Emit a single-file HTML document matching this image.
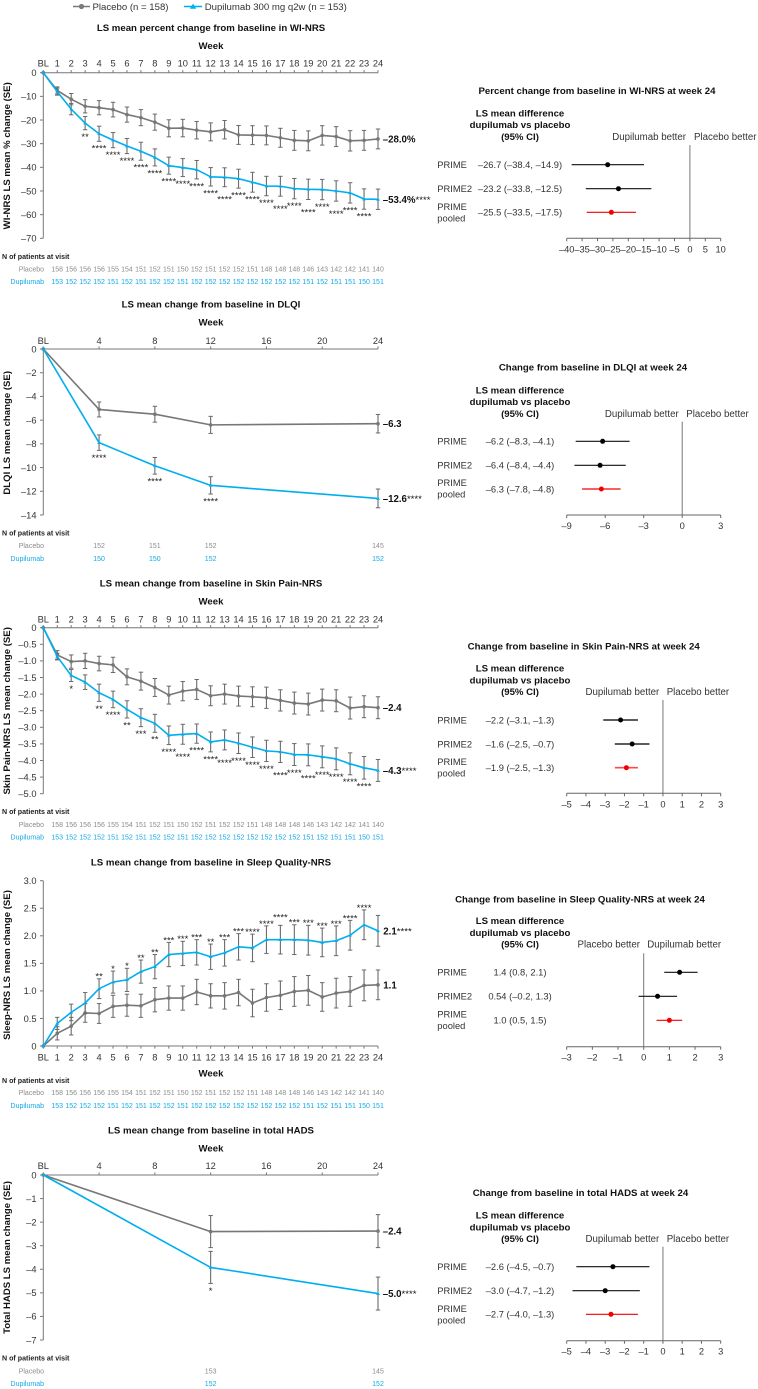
<!DOCTYPE html>
<html lang="en">
<head>
<meta charset="utf-8">
<title>Dupilumab vs placebo outcomes</title>
<style>
html,body{margin:0;padding:0;background:#fff;}
svg{display:block;font-family:"Liberation Sans",Arial,sans-serif;filter:blur(0.3px);}
.title{font-size:9.65px;font-weight:bold;fill:#111;text-anchor:middle;}
.week{font-size:9.6px;font-weight:bold;fill:#111;text-anchor:middle;}
.ytitle{font-size:9.6px;font-weight:bold;fill:#111;text-anchor:middle;}
.nhead{font-size:7.1px;font-weight:bold;fill:#222;}
.rowp{font-size:7px;fill:#8c8c8c;text-anchor:end;}
.rowd{font-size:7px;fill:#14a9e8;text-anchor:end;}
.head{font-size:9.6px;font-weight:bold;fill:#111;text-anchor:middle;}
.better{font-size:9.7px;fill:#333;}
.study{font-size:9.35px;fill:#333;}
.legend{font-size:9.6px;fill:#333;}
</style>
</head>
<body>
<svg id="chart" xmlns="http://www.w3.org/2000/svg" width="758" height="1389" viewBox="0 0 758 1389">
  <rect x="0" y="0" width="758" height="1389" fill="#fff"/>

  <g>
    <g>
      <line x1="73" y1="6.5" x2="90" y2="6.5" stroke="#7a7a7a" stroke-width="1.5"/>
      <circle cx="81.5" cy="6.5" r="2.6" fill="#7a7a7a"/>
      <text class="legend" x="92.5" y="10">Placebo (n = 158)</text>
    </g>
    <g>
      <line x1="184" y1="6.5" x2="202" y2="6.5" stroke="#00aeef" stroke-width="1.5"/>
      <polygon points="193,3.6 196.2,8.8 189.8,8.8" fill="#00aeef"/>
      <text class="legend" x="204.7" y="10">Dupilumab 300 mg q2w (n = 153)</text>
    </g>
  </g>

  <!-- Panel 1 -->
  <g id="line-wi">
    <text class="title" x="211" y="31">LS mean percent change from baseline in WI-NRS</text>
    <text class="week" x="211" y="49">Week</text>
    <text class="ytitle" transform="translate(10,155.8) rotate(-90)">WI-NRS LS mean % change (SE)</text>
    <text class="nhead" x="2" y="259">N of patients at visit</text>
    <text class="rowp" x="44" y="271.5">Placebo</text>
    <text class="rowd" x="44" y="284">Dupilumab</text>
  </g>
  <g id="forest-wi">
    <text class="title" x="597" y="94">Percent change from baseline in WI-NRS at week 24</text>
    <text class="head" x="520" y="116.3">LS mean difference</text>
    <text class="head" x="520" y="128">dupilumab vs placebo</text>
    <text class="head" x="520" y="140">(95% CI)</text>
    <text class="better" x="686" y="140" text-anchor="end">Dupilumab better</text>
    <text class="better" x="694" y="140">Placebo better</text>
    <text class="study" x="437.3" y="168">PRIME</text>
    <text class="study" x="437.3" y="192">PRIME2</text>
    <text class="study" x="437.3" y="210">PRIME</text>
    <text class="study" x="437.3" y="221.5">pooled</text>
  </g>

  <!-- Panel 2 -->
  <g id="line-dlqi">
    <text class="title" x="211" y="307.6">LS mean change from baseline in DLQI</text>
    <text class="week" x="211" y="325.6">Week</text>
    <text class="ytitle" transform="translate(10,432.8) rotate(-90)">DLQI LS mean change (SE)</text>
    <text class="nhead" x="2" y="535.7">N of patients at visit</text>
    <text class="rowp" x="44" y="548.2">Placebo</text>
    <text class="rowd" x="44" y="560.8">Dupilumab</text>
  </g>
  <g id="forest-dlqi">
    <text class="title" x="593" y="370.6">Change from baseline in DLQI at week 24</text>
    <text class="head" x="520" y="393.3">LS mean difference</text>
    <text class="head" x="520" y="405">dupilumab vs placebo</text>
    <text class="head" x="520" y="417">(95% CI)</text>
    <text class="better" x="678.7" y="416.8" text-anchor="end">Dupilumab better</text>
    <text class="better" x="686.3" y="416.8">Placebo better</text>
    <text class="study" x="437.3" y="444.6">PRIME</text>
    <text class="study" x="437.3" y="468.6">PRIME2</text>
    <text class="study" x="437.3" y="486">PRIME</text>
    <text class="study" x="437.3" y="497.6">pooled</text>
  </g>

  <!-- Panel 3 -->
  <g id="line-pain">
    <text class="title" x="211" y="586.6">LS mean change from baseline in Skin Pain-NRS</text>
    <text class="week" x="211" y="604.3">Week</text>
    <text class="ytitle" transform="translate(10,710.8) rotate(-90)">Skin Pain-NRS LS mean change (SE)</text>
    <text class="nhead" x="2" y="814">N of patients at visit</text>
    <text class="rowp" x="44" y="826.8">Placebo</text>
    <text class="rowd" x="44" y="839.5">Dupilumab</text>
  </g>
  <g id="forest-pain">
    <text class="title" x="583.7" y="649.6">Change from baseline in Skin Pain-NRS at week 24</text>
    <text class="head" x="520" y="671.6">LS mean difference</text>
    <text class="head" x="520" y="683.3">dupilumab vs placebo</text>
    <text class="head" x="520" y="695">(95% CI)</text>
    <text class="better" x="659.3" y="695" text-anchor="end">Dupilumab better</text>
    <text class="better" x="666.7" y="695">Placebo better</text>
    <text class="study" x="437.3" y="723.3">PRIME</text>
    <text class="study" x="437.3" y="747.3">PRIME2</text>
    <text class="study" x="437.3" y="765">PRIME</text>
    <text class="study" x="437.3" y="776.6">pooled</text>
  </g>

  <!-- Panel 4 -->
  <g id="line-sleep">
    <text class="title" x="211" y="865.3">LS mean change from baseline in Sleep Quality-NRS</text>
    <text class="week" x="211" y="1076.6">Week</text>
    <text class="ytitle" transform="translate(10,965) rotate(-90)">Sleep-NRS LS mean change (SE)</text>
    <text class="nhead" x="2" y="1083">N of patients at visit</text>
    <text class="rowp" x="44" y="1095.2">Placebo</text>
    <text class="rowd" x="44" y="1107.8">Dupilumab</text>
  </g>
  <g id="forest-sleep">
    <text class="title" x="580" y="902.3">Change from baseline in Sleep Quality-NRS at week 24</text>
    <text class="head" x="520" y="924">LS mean difference</text>
    <text class="head" x="520" y="936">dupilumab vs placebo</text>
    <text class="head" x="520" y="947.6">(95% CI)</text>
    <text class="better" x="640" y="947.6" text-anchor="end">Placebo better</text>
    <text class="better" x="647.3" y="947.6">Dupilumab better</text>
    <text class="study" x="437.3" y="975.6">PRIME</text>
    <text class="study" x="437.3" y="999.6">PRIME2</text>
    <text class="study" x="437.3" y="1017.6">PRIME</text>
    <text class="study" x="437.3" y="1029.2">pooled</text>
  </g>

  <!-- Panel 5 -->
  <g id="line-hads">
    <text class="title" x="211" y="1133.3">LS mean change from baseline in total HADS</text>
    <text class="week" x="211" y="1151.3">Week</text>
    <text class="ytitle" transform="translate(10,1257.5) rotate(-90)">Total HADS LS mean change (SE)</text>
    <text class="nhead" x="2" y="1360.7">N of patients at visit</text>
    <text class="rowp" x="44" y="1373.5">Placebo</text>
    <text class="rowd" x="44" y="1385.8">Dupilumab</text>
  </g>
  <g id="forest-hads">
    <text class="title" x="580.5" y="1196">Change from baseline in total HADS at week 24</text>
    <text class="head" x="520" y="1218.6">LS mean difference</text>
    <text class="head" x="520" y="1230.3">dupilumab vs placebo</text>
    <text class="head" x="520" y="1242">(95% CI)</text>
    <text class="better" x="659.3" y="1241.8" text-anchor="end">Dupilumab better</text>
    <text class="better" x="666.7" y="1241.8">Placebo better</text>
    <text class="study" x="437.3" y="1270">PRIME</text>
    <text class="study" x="437.3" y="1294">PRIME2</text>
    <text class="study" x="437.3" y="1312">PRIME</text>
    <text class="study" x="437.3" y="1323.6">pooled</text>
  </g>
</svg>

<script>
// ---------- shared categories ----------
const weeklyWeeks = [0,1,2,3,4,5,6,7,8,9,10,11,12,13,14,15,16,17,18,19,20,21,22,23,24];
const weeklyTickLabels = ['BL','1','2','3','4','5','6','7','8','9','10','11','12','13','14','15','16','17','18','19','20','21','22','23','24'];
const sparseTicks = [0,4,8,12,16,20,24];
const sparseTickLabels = ['BL','4','8','12','16','20','24'];
const weeklyNWeeks = [1,2,3,4,5,6,7,8,9,10,11,12,13,14,15,16,17,18,19,20,21,22,23,24];
const weeklyNPlacebo = [158,156,156,156,155,154,151,152,151,150,152,151,152,152,151,148,148,148,146,143,142,142,141,140];
const weeklyNDupilumab = [153,152,152,152,151,152,151,152,152,151,152,152,152,152,152,152,152,152,151,152,151,151,150,151];

// ---------- WI-NRS ----------
const wiPlacebo = [0,-7.5,-11.2,-14.2,-14.8,-15.6,-17.7,-19,-20.9,-23.5,-23.4,-24.3,-25,-24.1,-26.3,-26.4,-26.5,-27.5,-28.6,-28.8,-26.5,-27,-28.8,-28.6,-28];
const wiPlaceboSE = [0,1.5,2.4,2.8,3,3.1,3.2,3.4,3.4,3.6,3.7,3.7,3.8,3.9,4,4,4,4,4.2,4.2,4.1,4.2,4.3,4.2,4.2];
const wiDupilumab = [0,-8,-15.4,-21.3,-25.8,-28.5,-31,-33.2,-35.8,-39.3,-40.1,-41,-44,-44.2,-44.8,-46.3,-47.9,-48,-49,-49.3,-49.4,-50,-50.8,-53.4,-53.5];
const wiDupilumabSE = [0,1.5,2.4,2.8,3.2,3.2,3.2,3.8,3.6,3.6,3.8,3.9,3.9,4,4,4.2,4.1,4.2,4.3,4.3,4.3,4.3,4.3,4.3,4.3];
const wiStars = ['','','','**','****','****','****','****','****','****','****','****','****','****','****','****','****','****','****','****','****','****','****','****',''];
const wiStarRows = [0,0,0,0,0,0,0,0,0,0,0,0,0,1,0,0,0,1,0,1,0,1,0,0,0];
const wiYTicks = [0,-10,-20,-30,-40,-50,-60,-70];
const wiYLabels = ['0','–10','–20','–30','–40','–50','–60','–70'];
const wiEndLabels = ['–28.0%','–53.4%'];
const wiEndStars = '****';
const wiForestEstimate = [-26.7,-23.2,-25.5];
const wiForestLow = [-38.4,-33.8,-33.5];
const wiForestHigh = [-14.9,-12.5,-17.5];
const wiForestPrinted = ['–26.7 (–38.4, –14.9)','–23.2 (–33.8, –12.5)','–25.5 (–33.5, –17.5)'];
const wiForestTicks = [-40,-35,-30,-25,-20,-15,-10,-5,0,5,10];
const wiForestTickLabels = ['–40','–35','–30','–25','–20','–15','–10','–5','0','5','10'];

// ---------- DLQI ----------
const dlqiWeeks = [0,4,8,12,24];
const dlqiPlacebo = [0,-5.1,-5.5,-6.4,-6.3];
const dlqiPlaceboSE = [0,0.63,0.67,0.72,0.78];
const dlqiDupilumab = [0,-7.9,-9.85,-11.5,-12.6];
const dlqiDupilumabSE = [0,0.65,0.7,0.73,0.79];
const dlqiStars = ['','****','****','****',''];
const dlqiStarRows = [0,0,0,0,0];
const dlqiYTicks = [0,-2,-4,-6,-8,-10,-12,-14];
const dlqiYLabels = ['0','–2','–4','–6','–8','–10','–12','–14'];
const dlqiEndLabels = ['–6.3','–12.6'];
const dlqiEndStars = '****';
const dlqiNWeeks = [4,8,12,24];
const dlqiNPlacebo = [152,151,152,145];
const dlqiNDupilumab = [150,150,152,152];
const dlqiForestEstimate = [-6.2,-6.4,-6.3];
const dlqiForestLow = [-8.3,-8.4,-7.8];
const dlqiForestHigh = [-4.1,-4.4,-4.8];
const dlqiForestPrinted = ['–6.2 (–8.3, –4.1)','–6.4 (–8.4, –4.4)','–6.3 (–7.8, –4.8)'];
const dlqiForestTicks = [-9,-6,-3,0,3];
const dlqiForestTickLabels = ['–9','–6','–3','0','3'];

// ---------- Skin Pain-NRS ----------
const painPlacebo = [0,-0.82,-1.02,-1,-1.08,-1.12,-1.48,-1.61,-1.8,-2.03,-1.91,-1.86,-2.05,-2,-2.06,-2.08,-2.11,-2.19,-2.27,-2.3,-2.18,-2.2,-2.42,-2.38,-2.41];
const painPlaceboSE = [0,0.13,0.2,0.23,0.22,0.23,0.24,0.27,0.27,0.27,0.29,0.3,0.3,0.3,0.3,0.3,0.32,0.32,0.33,0.33,0.33,0.33,0.33,0.33,0.33];
const painDupilumab = [0,-0.87,-1.44,-1.64,-1.96,-2.16,-2.46,-2.71,-2.88,-3.24,-3.21,-3.19,-3.44,-3.38,-3.48,-3.6,-3.71,-3.74,-3.82,-3.83,-3.89,-3.95,-4.1,-4.22,-4.3];
const painDupilumabSE = [0,0.1,0.18,0.22,0.26,0.25,0.26,0.27,0.27,0.28,0.3,0.29,0.3,0.3,0.31,0.31,0.32,0.32,0.33,0.33,0.33,0.33,0.33,0.34,0.33];
const painStars = ['','','*','','**','****','**','***','**','****','****','****','****','****','****','****','****','****','****','****','****','****','****','****',''];
const painStarRows = [0,0,0,0,0,0,0,0,0,0,1,0,0,1,0,0,0,1,0,1,0,0,0,0,0];
const painYTicks = [0,-0.5,-1,-1.5,-2,-2.5,-3,-3.5,-4,-4.5,-5];
const painYLabels = ['0','–0.5','–1.0','–1.5','–2.0','–2.5','–3.0','–3.5','–4.0','–4.5','–5.0'];
const painEndLabels = ['–2.4','–4.3'];
const painEndStars = '****';
const painForestEstimate = [-2.2,-1.6,-1.9];
const painForestLow = [-3.1,-2.5,-2.5];
const painForestHigh = [-1.3,-0.7,-1.3];
const painForestPrinted = ['–2.2 (–3.1, –1.3)','–1.6 (–2.5, –0.7)','–1.9 (–2.5, –1.3)'];
const painForestTicks = [-5,-4,-3,-2,-1,0,1,2,3];
const painForestTickLabels = ['–5','–4','–3','–2','–1','0','1','2','3'];

// ---------- Sleep Quality-NRS ----------
const sleepPlacebo = [0,0.23,0.36,0.6,0.59,0.72,0.74,0.73,0.84,0.87,0.87,0.98,0.91,0.91,0.97,0.78,0.88,0.92,0.99,1.01,0.89,0.96,0.99,1.1,1.11];
const sleepPlaceboSE = [0,0.12,0.16,0.17,0.18,0.2,0.2,0.21,0.22,0.22,0.22,0.23,0.22,0.24,0.24,0.25,0.25,0.26,0.27,0.27,0.26,0.27,0.27,0.28,0.27];
const sleepDupilumab = [0,0.41,0.61,0.78,1.04,1.16,1.2,1.35,1.44,1.66,1.68,1.7,1.62,1.69,1.8,1.78,1.93,1.93,1.93,1.92,1.88,1.91,2.01,2.2,2.09];
const sleepDupilumabSE = [0,0.11,0.15,0.19,0.18,0.2,0.21,0.21,0.22,0.22,0.22,0.23,0.23,0.24,0.24,0.25,0.25,0.26,0.27,0.27,0.26,0.27,0.27,0.27,0.28];
const sleepStars = ['','','','','**','*','*','**','**','***','***','***','**','***','***','****','****','****','***','***','***','***','****','****',''];
const sleepStarRows = [0,0,0,0,0,0,0,0,0,0,0,0,0,0,0,0,0,1,0,0,0,0,0,0,0];
const sleepYTicks = [0,0.5,1,1.5,2,2.5,3];
const sleepYLabels = ['0','0.5','1.0','1.5','2.0','2.5','3.0'];
const sleepEndLabels = ['1.1','2.1'];
const sleepEndStars = '****';
const sleepForestEstimate = [1.4,0.54,1.0];
const sleepForestLow = [0.8,-0.2,0.5];
const sleepForestHigh = [2.1,1.3,1.5];
const sleepForestPrinted = ['1.4 (0.8, 2.1)','0.54 (–0.2, 1.3)','1.0 (0.5, 1.5)'];
const sleepForestTicks = [-3,-2,-1,0,1,2,3];
const sleepForestTickLabels = ['–3','–2','–1','0','1','2','3'];

// ---------- HADS ----------
const hadsWeeks = [0,12,24];
const hadsPlacebo = [0,-2.4,-2.38];
const hadsPlaceboSE = [0,0.68,0.7];
const hadsDupilumab = [0,-3.92,-5.03];
const hadsDupilumabSE = [0,0.68,0.7];
const hadsStars = ['','*',''];
const hadsStarRows = [0,0,0];
const hadsYTicks = [0,-1,-2,-3,-4,-5,-6,-7];
const hadsYLabels = ['0','–1','–2','–3','–4','–5','–6','–7'];
const hadsEndLabels = ['–2.4','–5.0'];
const hadsEndStars = '****';
const hadsNWeeks = [12,24];
const hadsNPlacebo = [153,145];
const hadsNDupilumab = [152,152];
const hadsForestEstimate = [-2.6,-3.0,-2.7];
const hadsForestLow = [-4.5,-4.7,-4.0];
const hadsForestHigh = [-0.7,-1.2,-1.3];
const hadsForestPrinted = ['–2.6 (–4.5, –0.7)','–3.0 (–4.7, –1.2)','–2.7 (–4.0, –1.3)'];
const hadsForestTicks = [-5,-4,-3,-2,-1,0,1,2,3];
const hadsForestTickLabels = ['–5','–4','–3','–2','–1','0','1','2','3'];

// ---------- drawing ----------
const NS = 'http://www.w3.org/2000/svg';
const GRAY = '#777', BLUE = '#00aeef', AXIS = '#777', ERR = '#6a6a6a';

function add(parent, tag, attrs, name, text) {
  const el = document.createElementNS(NS, tag);
  for (const k in attrs) el.setAttribute(k, attrs[k]);
  
  
  if (text !== undefined) el.textContent = text;
  parent.appendChild(el);
  return el;
}
function linear(d0, d1, r0, r1) {
  return v => r0 + (v - d0) * (r1 - r0) / (d1 - d0);
}
const xWeek = linear(0, 24, 43.3, 378);

function drawSeries(g, key, weeks, vals, se, color, marker, y) {
  weeks.forEach((w, i) => {
    if (!se[i]) return;
    const x = xWeek(w), top = y(vals[i] + se[i]), bot = y(vals[i] - se[i]);
    add(g, 'line', {x1:x, x2:x, y1:top, y2:bot, stroke:ERR, 'stroke-width':1.1}, key + '-error-bar');
    add(g, 'line', {x1:x-2.2, x2:x+2.2, y1:top, y2:top, stroke:ERR, 'stroke-width':1}, key + '-error-cap');
    add(g, 'line', {x1:x-2.2, x2:x+2.2, y1:bot, y2:bot, stroke:ERR, 'stroke-width':1}, key + '-error-cap');
  });
  const pts = weeks.map((w, i) => xWeek(w) + ',' + y(vals[i])).join(' ');
  add(g, 'polyline', {points:pts, fill:'none', stroke:color, 'stroke-width':1.6, 'stroke-linejoin':'round'}, key + '-line');
  weeks.forEach((w, i) => {
    const x = xWeek(w), py = y(vals[i]);
    if (marker === 'circle') {
      add(g, 'circle', {cx:x, cy:py, r:1.8, fill:color}, key + '-point');
    } else {
      add(g, 'polygon', {points:(x)+','+(py-2)+' '+(x+1.9)+','+(py+1.3)+' '+(x-1.9)+','+(py+1.3), fill:color}, key + '-point');
    }
  });
}

function drawLineChart(c) {
  const g = document.getElementById(c.id);
  const y = linear(c.yDomain[0], c.yDomain[1], c.yRange[0], c.yRange[1]);
  const axisY = y(0);

  // y axis
  add(g, 'line', {x1:43.3, x2:43.3, y1:y(c.yDomain[0]), y2:y(c.yDomain[1]), stroke:AXIS, 'stroke-width':1}, c.key + '-y-axis');
  c.yTicks.forEach((t, i) => {
    add(g, 'line', {x1:40, x2:43.3, y1:y(t), y2:y(t), stroke:AXIS, 'stroke-width':1}, c.key + '-y-tick');
    add(g, 'text', {x:36.5, y:y(t)+3.3, 'text-anchor':'end', 'font-size':9.3, fill:'#333'}, c.key + '-y-tick-label', c.yLabels[i]);
  });

  // x axis
  add(g, 'line', {x1:43.3, x2:378, y1:axisY, y2:axisY, stroke:AXIS, 'stroke-width':1}, c.key + '-x-axis');
  c.xTicks.forEach((t, i) => {
    const x = xWeek(t);
    add(g, 'line', {x1:x, x2:x, y1:axisY, y2:axisY + c.tickDir*2.6, stroke:AXIS, 'stroke-width':1}, c.key + '-x-tick');
    add(g, 'text', {x:x, y:c.tickY+3.3, 'text-anchor':'middle', 'font-size':9.3, fill:'#333'}, c.key + '-x-tick-label', c.xLabels[i]);
  });

  // series
  drawSeries(g, c.key + '-placebo', c.weeks, c.placebo, c.placeboSE, GRAY, 'circle', y);
  drawSeries(g, c.key + '-dupilumab', c.weeks, c.dupilumab, c.dupilumabSE, BLUE, 'triangle', y);

  // significance stars
  c.weeks.forEach((w, i) => {
    if (!c.stars[i]) return;
    const v = c.dupilumab[i], se = c.dupilumabSE[i];
    const extra = c.starRows[i] * 5.5;
    const cy = c.starsAbove ? y(v + se) - 4.5 - extra : y(v - se) + 5 + extra;
    add(g, 'text', {x:xWeek(w), y:cy + 5.4, 'text-anchor':'middle', 'font-size':9.5, fill:'#222'}, c.key + '-significance-stars', c.stars[i]);
  });

  // end labels
  const last = c.weeks.length - 1;
  add(g, 'text', {x:c.endX, y:y(c.placebo[last])+3.5, 'font-size':9.7, 'font-weight':'bold', fill:'#111'}, c.key + '-placebo-end-label', c.endLabels[0]);
  const dupLabel = add(g, 'text', {x:c.endX, y:y(c.dupilumab[last])+3.5, 'font-size':9.7, 'font-weight':'bold', fill:'#111'}, c.key + '-dupilumab-end-label', c.endLabels[1]);
  add(dupLabel, 'tspan', {'font-weight':'normal', 'font-size':9.6}, c.key + '-dupilumab-end-stars', c.endStars);

  // patient numbers
  c.nWeeks.forEach((w, i) => {
    add(g, 'text', {x:xWeek(w), y:c.nY[0]+2.5, 'text-anchor':'middle', 'font-size':7, fill:'#8c8c8c'}, c.key + '-n-placebo', String(c.nPlacebo[i]));
    add(g, 'text', {x:xWeek(w), y:c.nY[1]+2.5, 'text-anchor':'middle', 'font-size':7, fill:'#14a9e8'}, c.key + '-n-dupilumab', String(c.nDupilumab[i]));
  });
}

function drawForest(f) {
  const g = document.getElementById(f.id);
  const x = linear(f.domain[0], f.domain[1], 566.7, 720.7);
  add(g, 'line', {x1:x(0), x2:x(0), y1:f.refTop, y2:f.axisY, stroke:'#777', 'stroke-width':1}, f.key + '-reference-line');
  add(g, 'line', {x1:566.7, x2:720.7, y1:f.axisY, y2:f.axisY, stroke:'#666', 'stroke-width':1}, f.key + '-forest-axis');
  f.ticks.forEach((t, i) => {
    add(g, 'line', {x1:x(t), x2:x(t), y1:f.axisY, y2:f.axisY+3, stroke:'#666', 'stroke-width':1}, f.key + '-forest-tick');
    add(g, 'text', {x:x(t), y:f.axisY+14, 'text-anchor':'middle', 'font-size':9.3, fill:'#333'}, f.key + '-forest-tick-label', f.tickLabels[i]);
  });
  f.est.forEach((v, i) => {
    const yy = f.rows[i], col = i === 2 ? f.red : f.black;
    add(g, 'text', {x:520, y:yy+3.3, 'text-anchor':'middle', 'font-size':9.35, fill:'#333'}, f.key + '-forest-value', f.printed[i]);
    add(g, 'line', {x1:x(f.low[i]), x2:x(f.high[i]), y1:yy, y2:yy, stroke:col, 'stroke-width':f.lineWidth}, f.key + '-confidence-interval');
    add(g, 'circle', {cx:x(v), cy:yy, r:2.5, fill:i === 2 ? '#f00000' : '#000'}, f.key + '-estimate-point');
  });
}

drawLineChart({id:'line-wi', key:'wi-nrs', yDomain:[0,-70], yRange:[72.7,238.3], yTicks:wiYTicks, yLabels:wiYLabels,
  xTicks:weeklyWeeks, xLabels:weeklyTickLabels, tickDir:-1, tickY:63.3, weeks:weeklyWeeks,
  placebo:wiPlacebo, placeboSE:wiPlaceboSE, dupilumab:wiDupilumab, dupilumabSE:wiDupilumabSE,
  stars:wiStars, starRows:wiStarRows, starsAbove:false, endX:382.7, endLabels:wiEndLabels, endStars:wiEndStars,
  nWeeks:weeklyNWeeks, nPlacebo:weeklyNPlacebo, nDupilumab:weeklyNDupilumab, nY:[269,281.5]});

drawLineChart({id:'line-dlqi', key:'dlqi', yDomain:[0,-14], yRange:[349,515], yTicks:dlqiYTicks, yLabels:dlqiYLabels,
  xTicks:sparseTicks, xLabels:sparseTickLabels, tickDir:-1, tickY:340.7, weeks:dlqiWeeks,
  placebo:dlqiPlacebo, placeboSE:dlqiPlaceboSE, dupilumab:dlqiDupilumab, dupilumabSE:dlqiDupilumabSE,
  stars:dlqiStars, starRows:dlqiStarRows, starsAbove:false, endX:382.7, endLabels:dlqiEndLabels, endStars:dlqiEndStars,
  nWeeks:dlqiNWeeks, nPlacebo:dlqiNPlacebo, nDupilumab:dlqiNDupilumab, nY:[545.7,558.3]});

drawLineChart({id:'line-pain', key:'skin-pain', yDomain:[0,-5], yRange:[627.7,793.7], yTicks:painYTicks, yLabels:painYLabels,
  xTicks:weeklyWeeks, xLabels:weeklyTickLabels, tickDir:-1, tickY:619.3, weeks:weeklyWeeks,
  placebo:painPlacebo, placeboSE:painPlaceboSE, dupilumab:painDupilumab, dupilumabSE:painDupilumabSE,
  stars:painStars, starRows:painStarRows, starsAbove:false, endX:382.7, endLabels:painEndLabels, endStars:painEndStars,
  nWeeks:weeklyNWeeks, nPlacebo:weeklyNPlacebo, nDupilumab:weeklyNDupilumab, nY:[824.3,837]});

drawLineChart({id:'line-sleep', key:'sleep-quality', yDomain:[0,3], yRange:[1046,880.7], yTicks:sleepYTicks, yLabels:sleepYLabels,
  xTicks:weeklyWeeks, xLabels:weeklyTickLabels, tickDir:1, tickY:1057.3, weeks:weeklyWeeks,
  placebo:sleepPlacebo, placeboSE:sleepPlaceboSE, dupilumab:sleepDupilumab, dupilumabSE:sleepDupilumabSE,
  stars:sleepStars, starRows:sleepStarRows, starsAbove:true, endX:383.3, endLabels:sleepEndLabels, endStars:sleepEndStars,
  nWeeks:weeklyNWeeks, nPlacebo:weeklyNPlacebo, nDupilumab:weeklyNDupilumab, nY:[1092.7,1105.3]});

drawLineChart({id:'line-hads', key:'hads', yDomain:[0,-7], yRange:[1175,1340], yTicks:hadsYTicks, yLabels:hadsYLabels,
  xTicks:sparseTicks, xLabels:sparseTickLabels, tickDir:-1, tickY:1165.7, weeks:hadsWeeks,
  placebo:hadsPlacebo, placeboSE:hadsPlaceboSE, dupilumab:hadsDupilumab, dupilumabSE:hadsDupilumabSE,
  stars:hadsStars, starRows:hadsStarRows, starsAbove:false, endX:382.7, endLabels:hadsEndLabels, endStars:hadsEndStars,
  nWeeks:hadsNWeeks, nPlacebo:hadsNPlacebo, nDupilumab:hadsNDupilumab, nY:[1371,1383.3]});

drawForest({id:'forest-wi', key:'wi-nrs', domain:[-40,10], axisY:238.3, refTop:145, rows:[164.7,188.7,212.3], black:'#111', red:'#f00000', lineWidth:1.2,
  est:wiForestEstimate, low:wiForestLow, high:wiForestHigh, printed:wiForestPrinted, ticks:wiForestTicks, tickLabels:wiForestTickLabels});
drawForest({id:'forest-dlqi', key:'dlqi', domain:[-9,3], axisY:515, refTop:421.7, rows:[441.3,465.3,489], black:'#111', red:'#f00000', lineWidth:1.2,
  est:dlqiForestEstimate, low:dlqiForestLow, high:dlqiForestHigh, printed:dlqiForestPrinted, ticks:dlqiForestTicks, tickLabels:dlqiForestTickLabels});
drawForest({id:'forest-pain', key:'skin-pain', domain:[-5,3], axisY:793.3, refTop:700, rows:[720,744,767.7], black:'#444', red:'#ff4a4a', lineWidth:1.7,
  est:painForestEstimate, low:painForestLow, high:painForestHigh, printed:painForestPrinted, ticks:painForestTicks, tickLabels:painForestTickLabels});
drawForest({id:'forest-sleep', key:'sleep-quality', domain:[-3,3], axisY:1046.7, refTop:953.3, rows:[972.3,996.3,1020.3], black:'#111', red:'#f00000', lineWidth:1.2,
  est:sleepForestEstimate, low:sleepForestLow, high:sleepForestHigh, printed:sleepForestPrinted, ticks:sleepForestTicks, tickLabels:sleepForestTickLabels});
drawForest({id:'forest-hads', key:'hads', domain:[-5,3], axisY:1340.7, refTop:1246.7, rows:[1266.7,1290.7,1314.3], black:'#111', red:'#f00000', lineWidth:1.2,
  est:hadsForestEstimate, low:hadsForestLow, high:hadsForestHigh, printed:hadsForestPrinted, ticks:hadsForestTicks, tickLabels:hadsForestTickLabels});
</script>
</body>
</html>
